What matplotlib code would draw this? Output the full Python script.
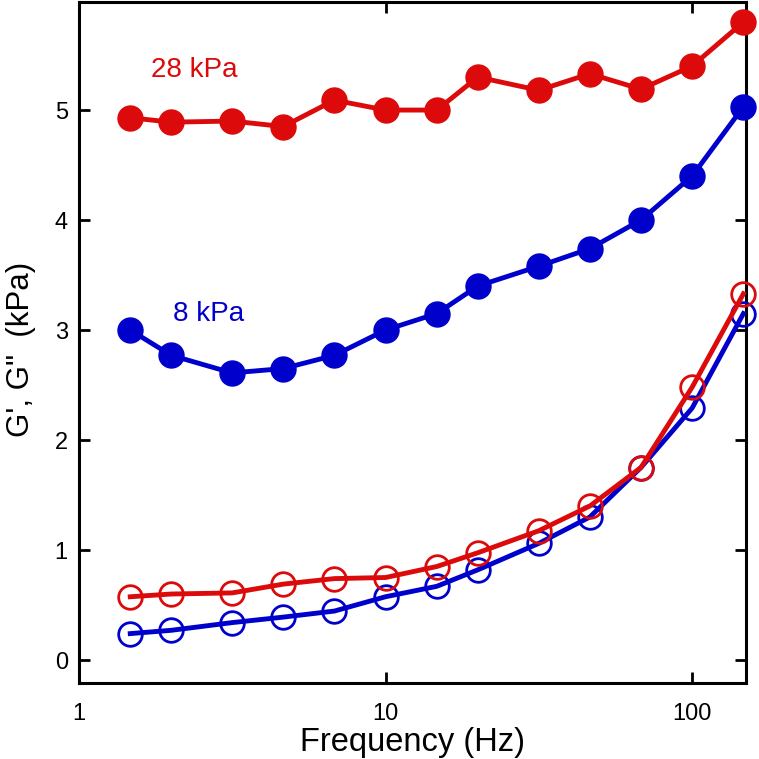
import matplotlib
matplotlib.use("Agg")
import matplotlib.pyplot as plt

plt.rcParams['font.family'] = ['Liberation Sans', 'DejaVu Sans']

# frequency (Hz)
freq = [1.47, 2.0, 3.16, 4.64, 6.81, 10, 14.7, 20, 31.6, 46.4, 68.1, 100, 147]

# storage modulus G' (filled) and loss modulus G'' (open), kPa
g1_28 = [4.93, 4.89, 4.90, 4.85, 5.09, 5.00, 5.00, 5.30, 5.18, 5.33, 5.19, 5.40, 5.80]
g2_28 = [0.575, 0.60, 0.61, 0.69, 0.74, 0.75, 0.85, 0.975, 1.175, 1.40, 1.75, 2.48, 3.33]
g1_8 = [3.00, 2.77, 2.61, 2.65, 2.77, 3.00, 3.15, 3.40, 3.58, 3.74, 4.00, 4.40, 5.03]
g2_8 = [0.24, 0.27, 0.34, 0.39, 0.445, 0.575, 0.67, 0.82, 1.06, 1.30, 1.75, 2.29, 3.15]

red = "#dc0a0a"
blue = "#0000cc"

fig = plt.figure(figsize=(7.59, 7.59), dpi=100)
ax = fig.add_axes([0.104, 0.100, 0.879, 0.897])

ax.plot(freq, g2_8, "-o", color=blue, lw=3.5, ms=17, mfc="none", mew=2, clip_on=False, zorder=3)
ax.plot(freq, g2_28, "-o", color=red, lw=3.5, ms=17, mfc="none", mew=2, clip_on=False, zorder=4)
ax.plot(freq, g1_8, "-o", color=blue, lw=3.5, ms=18, clip_on=False, zorder=5)
ax.plot(freq, g1_28, "-o", color=red, lw=3.5, ms=18, clip_on=False, zorder=6)

ax.text(1.72, 5.36, "28 kPa", color=red, fontsize=20, va="center")
ax.text(2.02, 3.15, "8 kPa", color=blue, fontsize=20, va="center")

ax.set_xscale("log")
ax.set_xlim(1, 150)
ax.set_ylim(-0.21, 5.98)
ax.set_xticks([1, 10, 100])
ax.set_xticklabels(["1", "10", "100"])
ax.minorticks_off()
ax.set_yticks([0, 1, 2, 3, 4, 5])

ax.tick_params(direction="in", length=8, width=2, labelsize=17, top=True, right=True, pad=8)
ax.tick_params(axis="x", pad=14)
for s in ax.spines.values():
    s.set_linewidth(2.2)

ax.set_xlabel("Frequency (Hz)", fontsize=23.5, labelpad=2)
ax.set_ylabel("G', G\"  (kPa)", fontsize=22.5)
ax.yaxis.set_label_coords(-0.064, 0.49)

fig.savefig("out.png", dpi=100)
